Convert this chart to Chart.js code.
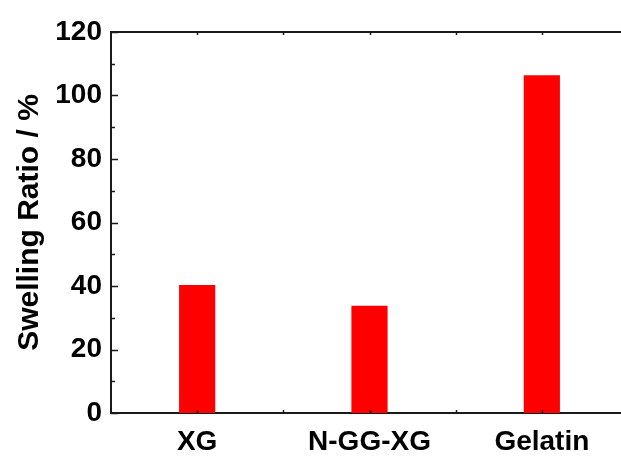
<!DOCTYPE html>
<html>
<head>
<meta charset="utf-8">
<script src="https://cdn.jsdelivr.net/npm/chart.js@4"></script>
<style>
  html, body { margin: 0; padding: 0; background: #fff; overflow: hidden; }
  #wrap { width: 640px; height: 457px; }
</style>
</head>
<body>
<div id="wrap"><canvas id="c" width="640" height="457" style="width:640px;height:457px"></canvas></div>
<script>
// Swelling ratio of the three hydrogel samples
const categories = ['XG', 'N-GG-XG', 'Gelatin'];
const swellingRatio = [40.3, 33.8, 106.4];
const yTicks = [0, 20, 40, 60, 80, 100, 120];

const FONT = "'Liberation Sans', Arial, Helvetica, sans-serif";
const AXIS = '#1a1a1a';

// Closed top edge plus inward-pointing tick marks on every side of the frame
const frameTicks = {
  id: 'frameTicks',
  afterDraw(chart) {
    const { ctx, chartArea: a, scales: { x, y } } = chart;
    ctx.save();
    ctx.strokeStyle = AXIS;
    ctx.lineWidth = 2;
    ctx.beginPath();
    ctx.moveTo(a.left - 1, a.top);
    ctx.lineTo(a.right, a.top);
    ctx.stroke();

    ctx.lineWidth = 1.5;
    ctx.beginPath();
    const top = yTicks[yTicks.length - 1];
    const step = yTicks[1] - yTicks[0];
    for (let v = yTicks[0]; v <= top; v += step / 2) {
      const py = Math.round(y.getPixelForValue(v)) + 0.5;
      const len = (v % step === 0) ? 7 : 4;
      ctx.moveTo(a.left, py);
      ctx.lineTo(a.left + len, py);
    }
    const half = (x.getPixelForValue(1) - x.getPixelForValue(0)) / 2;
    const marks = [];
    categories.forEach((_, i) => {
      const px = x.getPixelForValue(i);
      marks.push(px);
      if (i < categories.length - 1) marks.push(px + half);
    });
    marks.forEach(px => {
      const p = Math.round(px) + 0.5;
      ctx.moveTo(p, a.bottom);
      ctx.lineTo(p, a.bottom - 3);
      ctx.moveTo(p, a.top);
      ctx.lineTo(p, a.top + 3);
    });
    ctx.stroke();
    ctx.restore();
  }
};

new Chart(document.getElementById('c'), {
  type: 'bar',
  data: {
    labels: categories,
    datasets: [{
      data: swellingRatio,
      backgroundColor: '#ff0000',
      borderWidth: 0,
      barPercentage: 0.21,
      categoryPercentage: 1.0
    }]
  },
  options: {
    responsive: false,
    devicePixelRatio: 1,
    animation: false,
    layout: { padding: { top: 32, right: 12, left: 0, bottom: 0 } },
    plugins: { legend: { display: false }, tooltip: { enabled: false } },
    scales: {
      x: {
        offset: true,
        grid: { display: false, drawTicks: false },
        border: { display: true, color: AXIS, width: 2 },
        ticks: {
          color: '#000',
          padding: 12,
          font: { family: FONT, size: 28, weight: 'bold' },
          maxRotation: 0
        },
        afterFit(s) { s.height = 44; }
      },
      y: {
        min: 0,
        max: 120,
        grid: { display: false, drawTicks: false },
        border: { display: true, color: AXIS, width: 2 },
        ticks: {
          stepSize: 20,
          color: '#000',
          padding: 9,
          font: { family: FONT, size: 28, weight: 'bold' },
          callback: v => yTicks.includes(v) ? String(v) : null
        },
        title: {
          display: true,
          text: 'Swelling Ratio / %',
          color: '#000',
          font: { family: FONT, size: 30, weight: 'bold' },
          padding: { top: 12, bottom: 0 }
        },
        afterFit(s) { s.width = 111; }
      }
    }
  },
  plugins: [frameTicks]
});
</script>
</body>
</html>
